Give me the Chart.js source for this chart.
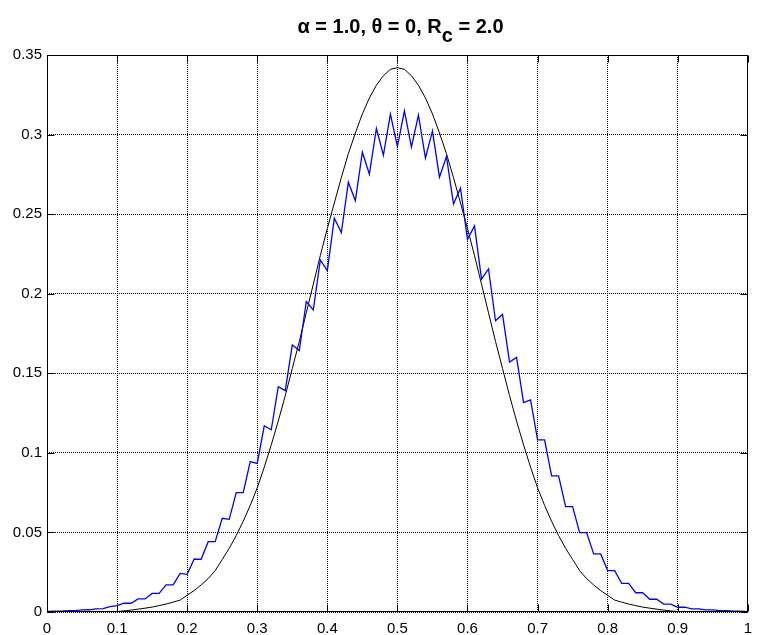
<!DOCTYPE html>
<html>
<head>
<meta charset="utf-8">
<script src="https://cdn.jsdelivr.net/npm/chart.js@4"></script>
<style>
  html, body { margin: 0; padding: 0; background: #fff; }
  #wrap { position: relative; width: 760px; height: 635px; }
  #title { position: absolute; left: 47px; width: 707px; top: 16px; text-align: center;
           font-family: "Liberation Sans", Arial, sans-serif; font-weight: bold; font-size: 20px;
           line-height: 20px; color: #000; white-space: nowrap; }
  #title .sub { position: relative; top: 9px; }
  canvas { position: absolute; left: 0; top: 0; }
</style>
</head>
<body>
<div id="wrap">
  <canvas id="c" width="760" height="635"></canvas>
  <div id="title">&alpha; = 1.0, &theta; = 0, R<span class="sub">c</span> = 2.0</div>
</div>
<script>
const xValues = [0.00,0.01,0.02,0.03,0.04,0.05,0.06,0.07,0.08,0.09,
  0.10,0.11,0.12,0.13,0.14,0.15,0.16,0.17,0.18,0.19,
  0.20,0.21,0.22,0.23,0.24,0.25,0.26,0.27,0.28,0.29,
  0.30,0.31,0.32,0.33,0.34,0.35,0.36,0.37,0.38,0.39,
  0.40,0.41,0.42,0.43,0.44,0.45,0.46,0.47,0.48,0.49,
  0.50,0.51,0.52,0.53,0.54,0.55,0.56,0.57,0.58,0.59,
  0.60,0.61,0.62,0.63,0.64,0.65,0.66,0.67,0.68,0.69,
  0.70,0.71,0.72,0.73,0.74,0.75,0.76,0.77,0.78,0.79,
  0.80,0.81,0.82,0.83,0.84,0.85,0.86,0.87,0.88,0.89,
  0.90,0.91,0.92,0.93,0.94,0.95,0.96,0.97,0.98,0.99,1.00];

const blueSeries = [0.0003,0.0006,0.0005,0.0009,0.0009,0.0013,0.0014,0.0020,0.0021,0.0034,
  0.0040,0.0055,0.0055,0.0082,0.0082,0.0117,0.0117,0.0170,0.0170,0.0243,
  0.0237,0.0333,0.0331,0.0442,0.0442,0.0589,0.0582,0.0750,0.0750,0.0945,
  0.0934,0.1170,0.1145,0.1416,0.1391,0.1678,0.1643,0.1951,0.1898,0.2212,
  0.2145,0.2474,0.2384,0.2701,0.2585,0.2889,0.2751,0.3038,0.2870,0.3128,
  0.2925,0.3149,0.2921,0.3122,0.2852,0.3023,0.2732,0.2862,0.2564,0.2663,
  0.2342,0.2426,0.2093,0.2156,0.1830,0.1870,0.1570,0.1600,0.1316,0.1333,
  0.1081,0.1081,0.0855,0.0855,0.0662,0.0662,0.0499,0.0499,0.0365,0.0365,
  0.0260,0.0260,0.0180,0.0180,0.0121,0.0121,0.0080,0.0080,0.0050,0.0050,
  0.0030,0.0030,0.0020,0.0020,0.0013,0.0013,0.0009,0.0009,0.0005,0.0005,0.0002];

const blackSeries = [0.0000,0.0000,0.0000,0.0000,0.0000,0.0000,0.0001,0.0001,0.0001,0.0002,
  0.0003,0.0007,0.0012,0.0018,0.0024,0.0031,0.0040,0.0050,0.0062,0.0075,
  0.0105,0.0135,0.0170,0.0210,0.0260,0.0330,0.0400,0.0480,0.0570,0.0670,
  0.0780,0.0910,0.1050,0.1200,0.1360,0.1530,0.1700,0.1880,0.2060,0.2240,
  0.2410,0.2570,0.2730,0.2880,0.3010,0.3130,0.3230,0.3310,0.3370,0.3410,
  0.3420,0.3410,0.3370,0.3310,0.3230,0.3130,0.3010,0.2880,0.2730,0.2570,
  0.2410,0.2240,0.2060,0.1880,0.1700,0.1530,0.1360,0.1200,0.1050,0.0910,
  0.0780,0.0670,0.0570,0.0480,0.0400,0.0330,0.0260,0.0210,0.0170,0.0135,
  0.0105,0.0075,0.0062,0.0050,0.0040,0.0031,0.0024,0.0018,0.0012,0.0007,
  0.0003,0.0002,0.0001,0.0001,0.0001,0.0000,0.0000,0.0000,0.0000,0.0000,0.0000];

const xTickLabels = ["0","0.1","0.2","0.3","0.4","0.5","0.6","0.7","0.8","0.9","1"];
const yTickLabels = ["0","0.05","0.1","0.15","0.2","0.25","0.3","0.35"];

const FONT = '"Liberation Sans", Arial, Helvetica, sans-serif';

const boxPlugin = {
  id: 'box',
  afterDatasetsDraw(chart) {
    const ctx = chart.ctx, a = chart.chartArea;
    const xs = chart.scales.x, ys = chart.scales.y;
    ctx.save();
    ctx.strokeStyle = '#000';
    ctx.lineWidth = 1;
    ctx.setLineDash([]);
    const L = Math.round(a.left) + 0.5, R = Math.round(a.right) - 0.5;
    const T = Math.round(a.top) + 0.5, B = Math.round(a.bottom) - 0.5;
    ctx.beginPath();
    ctx.rect(L, T, R - L, B - T);
    ctx.stroke();
    const tl = 7;
    ctx.beginPath();
    xs.ticks.forEach(t => {
      const px = Math.round(xs.getPixelForValue(t.value)) + 0.5;
      ctx.moveTo(px, B); ctx.lineTo(px, B - tl);
      ctx.moveTo(px, T); ctx.lineTo(px, T + tl);
    });
    ys.ticks.forEach(t => {
      const py = Math.round(ys.getPixelForValue(t.value)) + 0.5;
      ctx.moveTo(L, py); ctx.lineTo(L + tl, py);
      ctx.moveTo(R, py); ctx.lineTo(R - tl, py);
    });
    ctx.stroke();
    ctx.restore();
  }
};

new Chart(document.getElementById('c'), {
  type: 'line',
  data: {
    datasets: [
      {
        label: 'blue',
        data: xValues.map((x, i) => ({ x: x, y: blueSeries[i] })),
        borderColor: '#0000ff',
        borderWidth: 1.3,
        pointRadius: 0,
        tension: 0,
        fill: false
      },
      {
        label: 'black',
        data: xValues.map((x, i) => ({ x: x, y: blackSeries[i] })),
        borderColor: '#000000',
        borderWidth: 1,
        pointRadius: 0,
        tension: 0,
        fill: false
      }
    ]
  },
  options: {
    responsive: false,
    animation: false,
    devicePixelRatio: 1,
    layout: { padding: { top: 55, right: 6, left: 0, bottom: 0 } },
    plugins: { legend: { display: false }, tooltip: { enabled: false }, title: { display: false } },
    scales: {
      x: {
        type: 'linear',
        min: 0, max: 1,
        afterFit(s) { s.height = 23; },
        ticks: {
          stepSize: 0.1,
          padding: 8,
          maxRotation: 0,
          autoSkip: false,
          color: '#000',
          font: { family: FONT, size: 15 },
          callback: (v, i) => xTickLabels[i]
        },
        grid: { color: '#000', lineWidth: 1, drawTicks: false },
        border: { display: false, dash: [1, 1] }
      },
      y: {
        type: 'linear',
        min: 0, max: 0.35,
        afterFit(s) { s.width = 47; },
        ticks: {
          stepSize: 0.05,
          padding: 5,
          autoSkip: false,
          color: '#000',
          font: { family: FONT, size: 15 },
          callback: (v, i) => yTickLabels[i]
        },
        grid: { color: '#000', lineWidth: 1, drawTicks: false },
        border: { display: false, dash: [1, 1] }
      }
    }
  },
  plugins: [boxPlugin]
});
</script>
</body>
</html>
